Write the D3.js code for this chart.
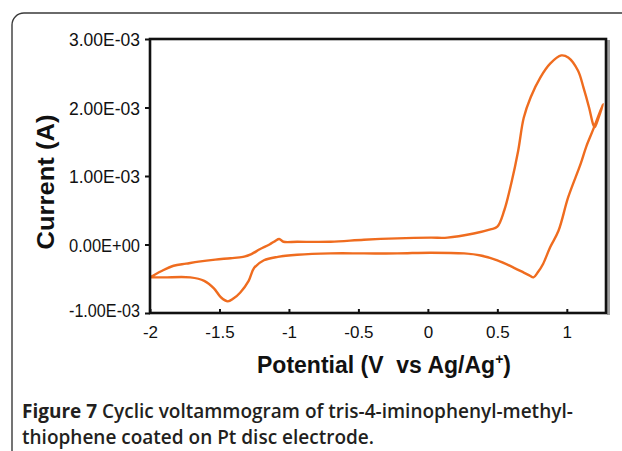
<!DOCTYPE html>
<html><head><meta charset="utf-8">
<script src="https://cdn.jsdelivr.net/npm/d3@7"></script>
<style>
html,body{margin:0;padding:0;background:#fff;}
svg{display:block;}
</style></head>
<body>
<svg id="chart" width="622" height="451"></svg>
<script>
// Forward sweep (-2 V -> 1.27 V), then reverse sweep back to -2 V
const forwardPotential = [-2.00,-1.92,-1.83,-1.74,-1.65,-1.53,-1.42,-1.33,-1.27,-1.21,-1.14,-1.10,-1.07,-1.04,-0.94,-0.70,-0.46,-0.22,0.02,0.14,0.33,0.45,0.50,0.55,0.60,0.65,0.69,0.74,0.81,0.88,0.96,1.01,1.08,1.12,1.16,1.19,1.20,1.23,1.26];
const forwardCurrent = [-0.48e-3,-0.39e-3,-0.31e-3,-0.28e-3,-0.25e-3,-0.22e-3,-0.20e-3,-0.18e-3,-0.14e-3,-0.07e-3,0.00e-3,0.05e-3,0.08e-3,0.04e-3,0.04e-3,0.04e-3,0.07e-3,0.09e-3,0.10e-3,0.10e-3,0.16e-3,0.22e-3,0.26e-3,0.50e-3,0.89e-3,1.37e-3,1.85e-3,2.15e-3,2.44e-3,2.64e-3,2.76e-3,2.73e-3,2.54e-3,2.29e-3,2.00e-3,1.75e-3,1.71e-3,1.86e-3,2.05e-3];
const reversePotential = [1.26,1.19,1.14,1.10,1.01,0.94,0.88,0.83,0.79,0.76,0.73,0.69,0.62,0.50,0.38,0.26,0.02,-0.22,-0.46,-0.70,-0.94,-1.08,-1.18,-1.25,-1.29,-1.35,-1.40,-1.44,-1.49,-1.54,-1.61,-1.71,-1.90,-2.00];
const reverseCurrent = [2.05e-3,1.68e-3,1.43e-3,1.18e-3,0.69e-3,0.20e-3,-0.04e-3,-0.28e-3,-0.41e-3,-0.48e-3,-0.45e-3,-0.41e-3,-0.34e-3,-0.23e-3,-0.16e-3,-0.13e-3,-0.12e-3,-0.13e-3,-0.13e-3,-0.13e-3,-0.15e-3,-0.18e-3,-0.23e-3,-0.34e-3,-0.53e-3,-0.70e-3,-0.79e-3,-0.83e-3,-0.77e-3,-0.64e-3,-0.53e-3,-0.48e-3,-0.48e-3,-0.48e-3];
const xTicks = [-2,-1.5,-1,-0.5,0,0.5,1];
const xTickLabels = ["-2","-1.5","-1","-0.5","0","0.5","1"];
const yTicks = [3e-3,2e-3,1e-3,0,-1e-3];
const yTickLabels = ["3.00E-03","2.00E-03","1.00E-03","0.00E+00","-1.00E-03"];

const svg = d3.select("#chart");
const L = 150, R = 606, T = 39, B = 313;
const x = d3.scaleLinear().domain([-2, 1.282]).range([L, R]);
const y = d3.scaleLinear().domain([-1e-3, 3e-3]).range([B, T]);

// outer rounded frame
svg.append("rect").attr("x",12).attr("y",13).attr("width",700).attr("height",600)
  .attr("rx",12).attr("fill","none").attr("stroke","#3a3a3a").attr("stroke-width",1.4);

// right-side grey shadow of plot box
svg.append("rect").attr("x",R+1).attr("y",T+1).attr("width",3).attr("height",B-T+1).attr("fill","#a0a0a0");

// curve
const pts = forwardPotential.map((v,i)=>[v,forwardCurrent[i]])
  .concat(reversePotential.slice(1).map((v,i)=>[v,reverseCurrent[i+1]]));
const line = d3.line().x(d=>x(d[0])).y(d=>y(d[1])).curve(d3.curveCatmullRom.alpha(0.5));
svg.append("path").attr("d", line(pts)).attr("fill","none")
  .attr("stroke","#ef6c1f").attr("stroke-width",2.4).attr("stroke-linejoin","round");

// box
svg.append("rect").attr("x",L).attr("y",T).attr("width",R-L).attr("height",B-T)
  .attr("fill","none").attr("stroke","#111").attr("stroke-width",2.6);

// y axis
const yAxis = d3.axisLeft(y).tickValues(yTicks).tickSize(5).tickPadding(5)
  .tickFormat((d,i)=>yTickLabels[i]);
const gy = svg.append("g").attr("transform",`translate(${L},0)`).call(yAxis);
gy.select(".domain").remove();
gy.selectAll(".tick line").attr("stroke","#111").attr("stroke-width",2);
gy.selectAll(".tick text").attr("font-family","Liberation Sans, Arial, sans-serif")
  .attr("font-size",19).attr("fill","#111").attr("dy",(d)=> d===-1e-3 ? "0.2em" : "0.35em")
  .attr("textLength",71).attr("lengthAdjust","spacingAndGlyphs");

// x axis (ticks inward)
const xAxis = d3.axisBottom(x).tickValues(xTicks).tickSize(-4).tickPadding(13)
  .tickFormat((d,i)=>xTickLabels[i]);
const gx = svg.append("g").attr("transform",`translate(0,${B})`).call(xAxis);
gx.select(".domain").remove();
gx.selectAll(".tick line").attr("stroke","#111").attr("stroke-width",2);
gx.selectAll(".tick text").attr("font-family","Liberation Sans, Arial, sans-serif")
  .attr("font-size",17).attr("fill","#111");

// axis titles
const xt = svg.append("text").attr("x",384).attr("y",373).attr("text-anchor","middle")
  .attr("font-family","Liberation Sans, Arial, sans-serif").attr("font-weight","bold")
  .attr("font-size",23).attr("fill","#111");
xt.append("tspan").text("Potential (V\u00a0 vs Ag/Ag");
xt.append("tspan").attr("font-size",14).attr("dy",-9).text("+");
xt.append("tspan").attr("dy",9).text(")");

svg.append("text").attr("transform","translate(54,182) rotate(-90)").attr("text-anchor","middle")
  .attr("font-family","Liberation Sans, Arial, sans-serif").attr("font-weight","bold")
  .attr("font-size",24).attr("fill","#111").attr("textLength",135).attr("lengthAdjust","spacingAndGlyphs")
  .text("Current (A)");

// caption
const cap = svg.append("g").attr("font-family","Open Sans, sans-serif").attr("font-size",19).attr("fill","#231f20");
const c1 = cap.append("text").attr("x",22).attr("y",418);
c1.append("tspan").attr("font-weight","bold").text("Figure 7");
c1.append("tspan").attr("font-weight",600).text(" Cyclic voltammogram of tris-4-iminophenyl-methyl-");
cap.append("text").attr("x",22).attr("y",444).attr("font-weight",600).text("thiophene coated on Pt disc electrode.");
</script>
</body></html>
